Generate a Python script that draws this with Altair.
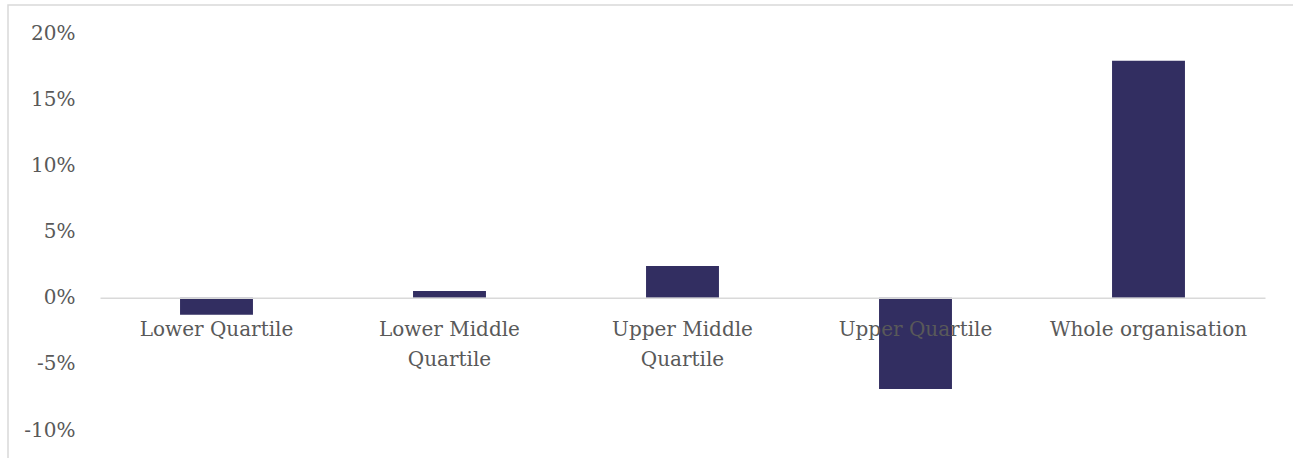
import altair as alt
import pandas as pd

categories = ["Lower Quartile", "Lower Middle Quartile", "Upper Middle Quartile",
              "Upper Quartile", "Whole organisation"]
values = [-0.013, 0.005, 0.024, -0.069, 0.179]
y_ticks = [-0.10, -0.05, 0.0, 0.05, 0.10, 0.15, 0.20]

df = pd.DataFrame({"category": categories, "value": values})

W, H = 1165, 397
FONT = "DejaVu Serif"
TXT = "#595959"
GRID = "#d9d9d9"

label_expr = ("datum.label == 'Lower Middle Quartile' ? ['Lower Middle', 'Quartile'] : "
              "datum.label == 'Upper Middle Quartile' ? ['Upper Middle', 'Quartile'] : datum.label")

bars = alt.Chart(df).mark_bar(color="#322e61").encode(
    x=alt.X("category:N", sort=categories, title=None,
            scale=alt.Scale(paddingInner=0.687, paddingOuter=0.3435),
            axis=alt.Axis(offset=-H * 10 / 30, labelAngle=0, ticks=False,
                          domainColor=GRID, domainWidth=1.5,
                          labelFont=FONT, labelFontSize=20, labelColor=TXT,
                          labelPadding=22, labelLineHeight=30, labelBaseline="top",
                          labelExpr=label_expr, labelLimit=0, labelOverlap=False,
                          labelFlush=False, zindex=1)),
    y=alt.Y("value:Q", title=None,
            scale=alt.Scale(domain=[-0.10, 0.20], nice=False, zero=False),
            axis=alt.Axis(values=y_ticks, ticks=False, domain=False,
                          labelExpr="replace(format(datum.value, '.0%'), '\u2212', '-')",
                          grid=False, labelFont=FONT, labelFontSize=20,
                          labelColor=TXT, labelPadding=25)),
)

border = alt.Chart(alt.Data(values=[{"a": 1}])).mark_rect(
    filled=False, stroke=GRID, strokeWidth=1.5
).encode(
    x=alt.value(-92), x2=alt.value(W + 60),
    y=alt.value(-28), y2=alt.value(H + 60),
)

chart = alt.layer(border, bars).properties(
    width=W, height=H,
    background="white",
    autosize=alt.AutoSizeParams(type="none"),
    padding={"left": 100, "top": 33, "right": 28, "bottom": 28},
).configure_view(strokeWidth=0, stroke=None)

chart.save("out.html", embed_options={"renderer": "svg", "actions": False})
